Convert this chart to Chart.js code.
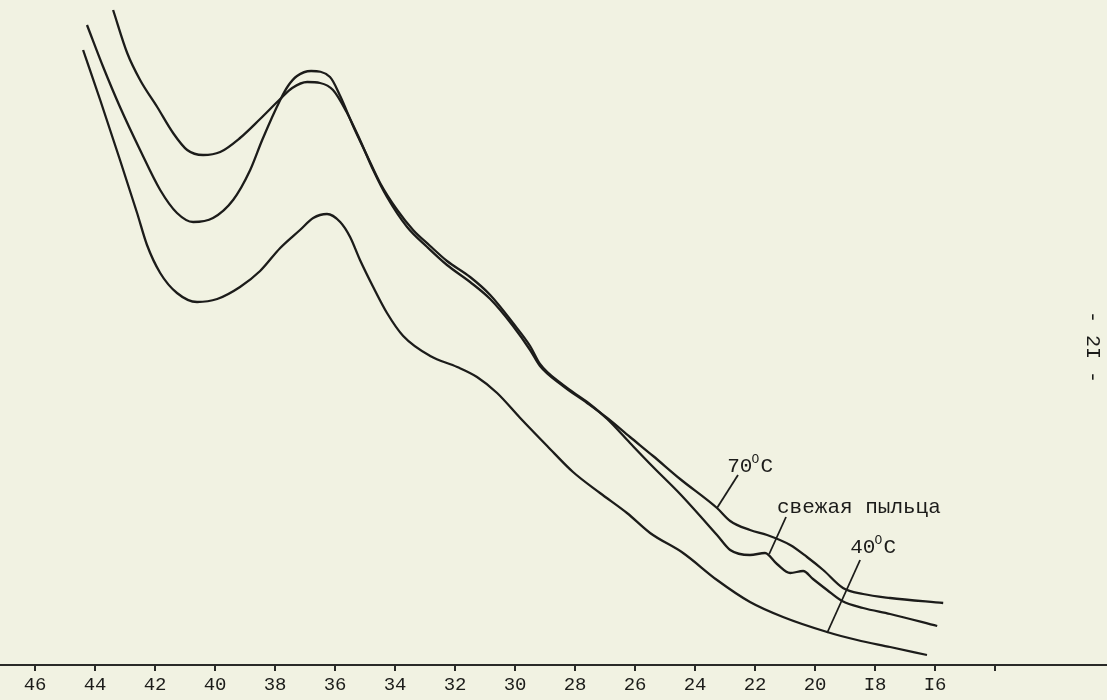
<!DOCTYPE html>
<html lang="ru">
<head>
    <meta charset="UTF-8">
    <title>Спектры пыльцы</title>
    <script src="https://cdn.jsdelivr.net/npm/chart.js"></script>
    <style>
        body { margin: 0; background: #f1f2e2; }
        #wrap { width: 1107px; height: 700px; }
    </style>
</head>
<body>
    <div id="wrap"><canvas id="specChart"></canvas></div>

    <script>
        // wavenumber (x 10^3 cm-1) and optical density
        let wn70 = [43.40, 42.93, 42.50, 41.93, 41.40, 40.93, 40.40, 39.83, 39.17, 38.50, 37.83, 37.43, 36.93, 36.50, 36.07, 35.60, 35.17, 34.73, 34.27, 33.60, 32.93, 32.27, 31.50, 30.83, 30.07, 29.50, 29.17, 28.40, 27.60, 26.93, 26.17, 25.40, 24.50, 23.27, 22.83, 22.17, 21.60, 20.83, 20.27, 19.73, 19.07, 18.40, 17.50, 15.73];
        let od70 = [1.310, 1.224, 1.170, 1.116, 1.064, 1.030, 1.020, 1.026, 1.054, 1.092, 1.132, 1.154, 1.166, 1.164, 1.150, 1.104, 1.050, 0.990, 0.936, 0.876, 0.836, 0.800, 0.766, 0.732, 0.678, 0.630, 0.598, 0.558, 0.524, 0.494, 0.456, 0.418, 0.372, 0.314, 0.288, 0.270, 0.260, 0.240, 0.216, 0.190, 0.154, 0.142, 0.134, 0.124];

        let wnFresh = [44.27, 43.73, 43.17, 42.50, 41.83, 41.27, 40.73, 40.07, 39.40, 38.83, 38.43, 37.83, 37.57, 37.27, 36.80, 36.17, 35.83, 35.40, 34.93, 34.50, 33.93, 33.40, 32.83, 32.27, 31.50, 30.83, 30.07, 29.50, 29.17, 28.40, 27.60, 26.93, 26.17, 25.40, 24.50, 23.27, 22.83, 22.17, 21.67, 21.27, 20.83, 20.40, 20.07, 19.60, 19.10, 18.40, 17.50, 15.93];
        let odFresh = [1.280, 1.196, 1.116, 1.030, 0.950, 0.904, 0.886, 0.894, 0.930, 0.990, 1.050, 1.130, 1.158, 1.178, 1.188, 1.176, 1.138, 1.078, 1.018, 0.964, 0.910, 0.870, 0.838, 0.808, 0.776, 0.740, 0.684, 0.638, 0.602, 0.560, 0.526, 0.492, 0.444, 0.396, 0.342, 0.260, 0.230, 0.220, 0.224, 0.202, 0.184, 0.188, 0.172, 0.150, 0.128, 0.114, 0.102, 0.078];

        let wn40 = [44.40, 43.83, 43.17, 42.60, 42.27, 41.83, 41.27, 40.60, 39.93, 39.17, 38.50, 37.83, 37.17, 36.73, 36.27, 35.83, 35.50, 35.17, 34.73, 34.27, 33.73, 32.83, 31.93, 31.27, 30.60, 29.83, 28.93, 28.07, 27.17, 26.27, 25.50, 24.40, 23.27, 22.17, 21.07, 19.60, 18.60, 17.50, 16.27];
        let od40 = [1.230, 1.130, 1.010, 0.904, 0.840, 0.784, 0.744, 0.726, 0.732, 0.756, 0.788, 0.834, 0.870, 0.894, 0.902, 0.886, 0.856, 0.810, 0.756, 0.704, 0.658, 0.618, 0.596, 0.576, 0.544, 0.494, 0.438, 0.386, 0.344, 0.304, 0.264, 0.224, 0.170, 0.126, 0.096, 0.066, 0.050, 0.036, 0.020];

        let tickValues = [46, 44, 42, 40, 38, 36, 34, 32, 30, 28, 26, 24, 22, 20, 18, 16, 14];
        let tickLabels = ['46', '44', '42', '40', '38', '36', '34', '32', '30', '28', '26', '24', '22', '20', 'I8', 'I6', ''];

        // curve labels: text anchor and leader line, in data units
        let curveNotes = [
            { text: '70', sup: true, x: 22.93, y: 0.386, from: [22.57, 0.380], to: [23.27, 0.314] },
            { text: 'свежая пыльца', sup: false, x: 21.27, y: 0.304, from: [20.97, 0.296], to: [21.53, 0.222] },
            { text: '40', sup: true, x: 18.83, y: 0.224, from: [18.50, 0.210], to: [19.60, 0.064] }
        ];

        const ink = '#1c1c1a';
        const typeFont = '"Liberation Mono", "DejaVu Sans Mono", monospace';

        function toPoints(xs, ys) {
            return xs.map((x, i) => ({ x: x, y: ys[i] }));
        }

        let paper = {
            id: 'paper',
            beforeDraw(chart) {
                let c = chart.ctx;
                c.save();
                c.fillStyle = '#f1f2e2';
                c.fillRect(0, 0, chart.width, chart.height);
                c.restore();
            }
        };

        let notes = {
            id: 'notes',
            afterDatasetsDraw(chart) {
                let c = chart.ctx;
                let xs = chart.scales.x, ys = chart.scales.y;
                c.save();
                c.fillStyle = ink;
                c.strokeStyle = ink;
                c.lineWidth = 1.8;
                c.textBaseline = 'alphabetic';
                curveNotes.forEach(n => {
                    c.beginPath();
                    c.moveTo(xs.getPixelForValue(n.from[0]), ys.getPixelForValue(n.from[1]));
                    c.lineTo(xs.getPixelForValue(n.to[0]), ys.getPixelForValue(n.to[1]));
                    c.stroke();
                    let px = xs.getPixelForValue(n.x), py = ys.getPixelForValue(n.y);
                    c.font = '21px ' + typeFont;
                    c.fillText(n.text, px, py);
                    if (n.sup) {
                        let w = c.measureText(n.text).width;
                        c.font = '13px ' + typeFont;
                        c.fillText('O', px + w - 1, py - 9);
                        c.font = '21px ' + typeFont;
                        c.fillText('C', px + w + 8, py);
                    }
                });
                // page number, typed sideways on the sheet
                c.translate(chart.width - 15, 347);
                c.rotate(Math.PI / 2);
                c.font = '20px ' + typeFont;
                c.textAlign = 'center';
                c.textBaseline = 'middle';
                c.fillText('- 2I -', 0, 0);
                c.restore();
            }
        };

        let line = (pts) => ({
            data: pts,
            borderColor: ink,
            borderWidth: 2.3,
            pointRadius: 0,
            cubicInterpolationMode: 'monotone',
            fill: false
        });

        let ctx = document.getElementById('specChart').getContext('2d');
        let specChart = new Chart(ctx, {
            type: 'line',
            data: {
                datasets: [
                    Object.assign(line(toPoints(wn70, od70)), { label: '70°C' }),
                    Object.assign(line(toPoints(wnFresh, odFresh)), { label: 'свежая пыльца' }),
                    Object.assign(line(toPoints(wn40, od40)), { label: '40°C' })
                ]
            },
            options: {
                responsive: true,
                maintainAspectRatio: false,
                animation: false,
                layout: { padding: 0 },
                plugins: { legend: { display: false }, tooltip: { enabled: false } },
                scales: {
                    x: {
                        type: 'linear',
                        reverse: true,
                        min: 10.27,
                        max: 47.17,
                        afterBuildTicks: (scale) => {
                            scale.ticks = tickValues.map(v => ({ value: v }));
                        },
                        afterFit: (scale) => { scale.height = 35; },
                        ticks: {
                            autoSkip: false,
                            maxRotation: 0,
                            padding: 3,
                            color: ink,
                            font: { family: typeFont, size: 19 },
                            callback: (v, i) => tickLabels[i]
                        },
                        grid: { drawOnChartArea: false, tickLength: 6, color: '#2a2a28', lineWidth: 2 },
                        border: { color: '#2a2a28', width: 2 }
                    },
                    y: { display: false, min: 0, max: 1.33 }
                }
            },
            plugins: [paper, notes]
        });
    </script>
</body>
</html>
